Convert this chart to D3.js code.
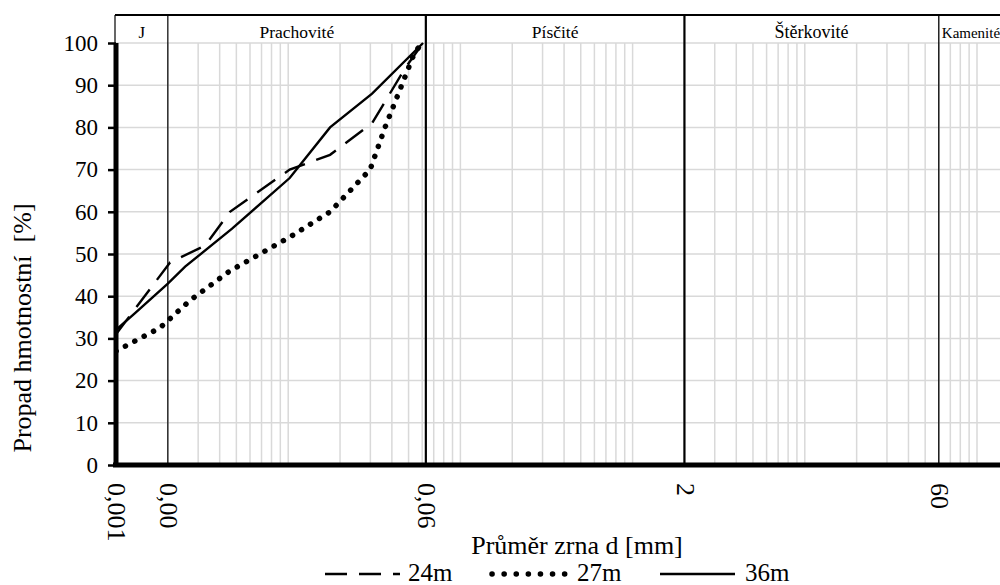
<!DOCTYPE html>
<html>
<head>
<meta charset="utf-8">
<script src="https://cdn.jsdelivr.net/npm/d3@7"></script>
<style>
  html, body { margin: 0; padding: 0; background: #fff; }
  svg { display: block; }
  svg text { font-family: "Liberation Serif", "DejaVu Serif", serif; fill: #000; }
</style>
</head>
<body>
<svg id="chart" width="1000" height="585"></svg>
<script>
// Grain-size distribution curves (log diameter vs. passing %)
const yTicks = [0, 10, 20, 30, 40, 50, 60, 70, 80, 90, 100];
const xBoundaries = [0.002, 0.063, 2, 60];
const xTickValues = [0.001, 0.002, 0.063, 2, 60];
const xTickLabels = ["0,001", "0,00", "0,06", "2", "60"];
const zones = ["J", "Prachovité", "Písčité", "Štěrkovité", "Kamenité"];
const zoneFrom = [0.001, 0.002, 0.063, 2, 60];
const zoneTo = [0.002, 0.063, 2, 60, 136];

const d24 = [0.001, 0.00206, 0.00329, 0.00459, 0.0102, 0.0175, 0.0307, 0.0477, 0.0607];
const p24 = [31, 48, 52, 60, 70, 73.5, 81, 94, 100];
const d27 = [0.001, 0.0018, 0.00269, 0.00459, 0.0102, 0.0175, 0.0299, 0.0365, 0.0446, 0.0545, 0.0607];
const p27 = [27, 32.5, 39, 46, 54, 60, 70, 80, 89, 98, 100];
const d36 = [0.001, 0.00129, 0.002, 0.00252, 0.00472, 0.0102, 0.0175, 0.0307, 0.0607];
const p36 = [32, 36, 43, 47, 56, 68, 80, 88, 100];

const seriesNames = ["24m", "27m", "36m"];
const serif = "Liberation Serif, DejaVu Serif, serif";

const svg = d3.select("#chart").attr("font-family", serif);
const mLeft = 116, mRight = 1000, mTop = 43, mBottom = 465, bandTop = 15;

const x = d3.scaleLog().domain([0.001, 136]).range([mLeft, mRight]);
const y = d3.scaleLinear().domain([0, 100]).range([mBottom, mTop]);

// minor log grid
const minor = [];
for (let e = -3; e <= 2; e++) {
  for (let m = 1; m <= 9; m++) {
    const v = m * Math.pow(10, e);
    if (v > 0.001 && v <= 136) minor.push(v);
  }
}
svg.append("g").selectAll("line").data(minor).join("line")
  .attr("x1", d => x(d)).attr("x2", d => x(d))
  .attr("y1", mTop).attr("y2", mBottom)
  .attr("stroke", "#d9d9d9").attr("stroke-width", 1.5);

svg.append("g").selectAll("line").data(yTicks).join("line")
  .attr("x1", mLeft).attr("x2", mRight)
  .attr("y1", d => y(d)).attr("y2", d => y(d))
  .attr("stroke", "#d9d9d9").attr("stroke-width", 1.5);

// zone boundaries
const bw = { 0.002: 1.2, 0.063: 2.2, 2: 2.2, 60: 1.3 };
svg.append("g").selectAll("line").data(xBoundaries).join("line")
  .attr("x1", d => x(d)).attr("x2", d => x(d))
  .attr("y1", bandTop).attr("y2", mBottom)
  .attr("stroke", "#000").attr("stroke-width", d => bw[d]);
svg.append("line").attr("x1", mLeft - 1).attr("x2", mLeft - 1)
  .attr("y1", bandTop).attr("y2", mTop).attr("stroke", "#000").attr("stroke-width", 1.2);
svg.append("line").attr("x1", mLeft - 1).attr("x2", mRight)
  .attr("y1", bandTop).attr("y2", bandTop).attr("stroke", "#000").attr("stroke-width", 2.2);

// zone names
const zoneSize = [17, 17.5, 17.5, 18, 15];
svg.append("g").selectAll("text").data(zones).join("text")
  .attr("x", (d, i) => i === 4 ? x(zoneFrom[i]) + 3 : (x(zoneFrom[i]) + x(zoneTo[i])) / 2)
  .attr("y", 38)
  .attr("text-anchor", (d, i) => i === 4 ? "start" : "middle")
  .attr("font-size", (d, i) => zoneSize[i])
  .text(d => d);

// curves
svg.append("clipPath").attr("id", "plot").append("rect")
  .attr("x", mLeft).attr("y", mTop - 3).attr("width", mRight - mLeft).attr("height", mBottom - mTop + 3);
const line = d3.line().x(d => x(d[0])).y(d => y(d[1]));
const curves = [
  { pts: d3.zip(d24, p24), dash: "22 12", width: 2.4, cap: "butt" },
  { pts: d3.zip(d27, p27), dash: "0.1 10.5", width: 5.5, cap: "round" },
  { pts: d3.zip(d36, p36), dash: null, width: 2.4, cap: "butt" }
];
svg.append("g").attr("clip-path", "url(#plot)").selectAll("path").data(curves).join("path")
  .attr("d", d => line(d.pts))
  .attr("fill", "none").attr("stroke", "#000")
  .attr("stroke-width", d => d.width)
  .attr("stroke-linecap", d => d.cap)
  .attr("stroke-dasharray", d => d.dash);

// axes
const yAxis = svg.append("g").attr("transform", `translate(${mLeft},0)`)
  .call(d3.axisLeft(y).tickValues(yTicks).tickSize(8).tickPadding(10));
yAxis.attr("font-family", serif);
yAxis.select(".domain").remove();
yAxis.selectAll(".tick line").attr("stroke", "#000").attr("stroke-width", 2.5);
yAxis.selectAll(".tick text").attr("font-size", 23).attr("fill", "#000");
svg.append("line").attr("x1", mLeft).attr("x2", mLeft).attr("y1", mTop).attr("y2", mBottom + 2)
  .attr("stroke", "#000").attr("stroke-width", 5);
svg.append("line").attr("x1", mLeft - 3).attr("x2", mRight).attr("y1", mBottom).attr("y2", mBottom)
  .attr("stroke", "#000").attr("stroke-width", 5);

const xAxis = svg.append("g").attr("transform", `translate(0,${mBottom})`)
  .call(d3.axisBottom(x).tickValues(xTickValues).tickSize(0).tickFormat((d, i) => xTickLabels[i]));
xAxis.attr("font-family", serif);
xAxis.select(".domain").remove();
xAxis.selectAll(".tick text")
  .attr("font-size", 26).attr("fill", "#000")
  .attr("text-anchor", "start")
  .attr("transform", "rotate(90)")
  .attr("x", 18).attr("y", 0).attr("dy", "0.32em");

// titles
svg.append("text").attr("x", 577).attr("y", 554).attr("text-anchor", "middle")
  .attr("font-size", 26).text("Průměr zrna d [mm]");
svg.append("text").attr("transform", "translate(31,328) rotate(-90)").attr("text-anchor", "middle")
  .attr("font-size", 26).style("white-space", "pre")
  .text("Propad hmotnostní  [%]");

// legend
const legX = [325, 492, 660];
const legText = [408, 577, 745];
const lg = svg.append("g");
curves.forEach((c, i) => {
  lg.append("line").attr("x1", legX[i]).attr("x2", legX[i] + 75).attr("y1", 574).attr("y2", 574)
    .attr("stroke", "#000").attr("stroke-width", c.width).attr("stroke-linecap", c.cap)
    .attr("stroke-dasharray", i === 1 ? "0.1 12" : c.dash);
  lg.append("text").attr("x", legText[i]).attr("y", 581).attr("font-size", 25).text(seriesNames[i]);
});
</script>
</body>
</html>
